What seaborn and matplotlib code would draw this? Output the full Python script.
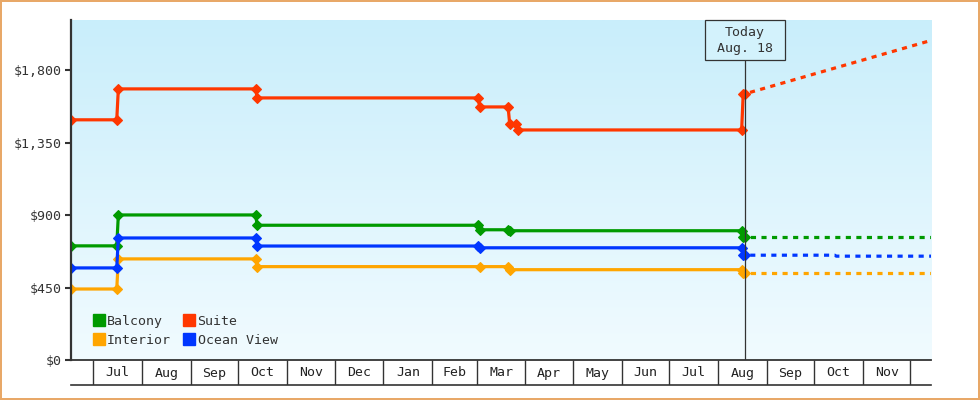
import numpy as np
import pandas as pd
import matplotlib
matplotlib.use("Agg")
import matplotlib.pyplot as plt
import matplotlib.transforms as mtransforms
from matplotlib.colors import LinearSegmentedColormap
from matplotlib.lines import Line2D
from matplotlib.patches import Rectangle
import seaborn as sns

sns.set_style("white")
plt.rcParams["font.family"] = ["DejaVu Sans Mono", "DejaVu Sans"]

# ---- data ----
cabins = ["Balcony", "Interior", "Suite", "Ocean View"]
palette = {"Balcony": "#009a00", "Interior": "#ffa500",
           "Suite": "#ff3700", "Ocean View": "#0036ff"}

balcony_dates = ["2012-06-17", "2012-07-16", "2012-07-17", "2012-10-12", "2012-10-13",
                 "2013-03-02", "2013-03-03", "2013-03-21", "2013-03-22",
                 "2013-08-16", "2013-08-17", "2013-08-18"]
balcony_prices = [709, 709, 901, 901, 837, 837, 809, 809, 803, 803, 762, 762]

interior_dates = ["2012-06-17", "2012-07-16", "2012-07-17", "2012-10-12", "2012-10-13",
                  "2013-03-03", "2013-03-21", "2013-03-22",
                  "2013-08-16", "2013-08-17", "2013-08-18"]
interior_prices = [441, 441, 628, 628, 580, 580, 580, 561, 561, 541, 541]

suite_dates = ["2012-06-17", "2012-07-16", "2012-07-17", "2012-10-12", "2012-10-13",
               "2013-03-02", "2013-03-03", "2013-03-21", "2013-03-22",
               "2013-03-26", "2013-03-27", "2013-08-16", "2013-08-17", "2013-08-18"]
suite_prices = [1492, 1492, 1684, 1684, 1628, 1628, 1572, 1572, 1467, 1467, 1429,
                1429, 1653, 1653]

ocean_dates = ["2012-06-17", "2012-07-16", "2012-07-17", "2012-10-12", "2012-10-13",
               "2013-03-02", "2013-03-03", "2013-08-16", "2013-08-17", "2013-08-18"]
ocean_prices = [572, 572, 758, 758, 708, 708, 697, 697, 651, 651]

# forecast (dotted) after today
fc_balcony_dates = ["2013-08-18", "2013-12-14"]
fc_balcony_prices = [762, 762]
fc_interior_dates = ["2013-08-18", "2013-12-14"]
fc_interior_prices = [541, 541]
fc_suite_dates = ["2013-08-18", "2013-12-14"]
fc_suite_prices = [1653, 1985]
fc_ocean_dates = ["2013-08-18", "2013-10-14", "2013-10-15", "2013-12-14"]
fc_ocean_prices = [651, 651, 645, 645]

today = pd.Timestamp("2013-08-18")
x_start, x_end = pd.Timestamp("2012-06-17"), pd.Timestamp("2013-12-14")
y_ticks = [0, 450, 900, 1350, 1800]


def long_frame(parts):
    rows = []
    for name, dates, prices in parts:
        for d, p in zip(dates, prices):
            rows.append({"cabin": name, "date": pd.Timestamp(d), "price": p})
    return pd.DataFrame(rows)


hist = long_frame([("Balcony", balcony_dates, balcony_prices),
                   ("Interior", interior_dates, interior_prices),
                   ("Suite", suite_dates, suite_prices),
                   ("Ocean View", ocean_dates, ocean_prices)])
fc = long_frame([("Balcony", fc_balcony_dates, fc_balcony_prices),
                 ("Interior", fc_interior_dates, fc_interior_prices),
                 ("Suite", fc_suite_dates, fc_suite_prices),
                 ("Ocean View", fc_ocean_dates, fc_ocean_prices)])

# ---- figure ----
fig = plt.figure(figsize=(9.8, 4.0), dpi=100)
fig.patch.set_edgecolor("#e8a868")
fig.patch.set_linewidth(1.6)

ax = fig.add_axes([71 / 980, 40 / 400, 860 / 980, 340 / 400])
strip = fig.add_axes([71 / 980, 15 / 400, 860 / 980, 25 / 400], sharex=ax)

# gradient background
bg = LinearSegmentedColormap.from_list("bg", ["#f1fbff", "#c9eefb"])
ax.imshow(np.linspace(0, 1, 256).reshape(-1, 1), cmap=bg, origin="lower",
          extent=[0, 1, 0, 1], transform=ax.transAxes, aspect="auto", zorder=0)

sns.lineplot(data=fc, x="date", y="price", hue="cabin", palette=palette,
             estimator=None, sort=False, legend=False, ax=ax,
             linewidth=2.3, linestyle=(1.6, (1.6, 1.7)), zorder=3)
sns.lineplot(data=hist, x="date", y="price", hue="cabin", palette=palette,
             estimator=None, sort=False, legend=False, ax=ax,
             linewidth=2.3, marker="D", markersize=5, markeredgewidth=0.8,
             zorder=4)
for line in ax.get_lines():
    line.set_markeredgecolor(line.get_color())

ax.set_xlim(x_start, x_end)
ax.set_ylim(0, 2112)
ax.set_yticks(y_ticks)
ax.set_yticklabels([f"${v:,}" for v in y_ticks])
ax.set_xlabel("")
ax.set_ylabel("")
ax.tick_params(axis="y", length=4.5, width=1.5, color="#333333",
               labelcolor="#333333", labelsize=9.5, pad=2, left=True)
ax.tick_params(axis="x", bottom=False, labelbottom=False)
for s in ["top", "right"]:
    ax.spines[s].set_visible(False)
ax.spines["left"].set_color("#333333")
ax.spines["left"].set_linewidth(1.6)
ax.spines["bottom"].set_color("#333333")
ax.spines["bottom"].set_linewidth(1.3)
ax.spines["left"].set_zorder(6)
ax.spines["bottom"].set_zorder(6)

# today marker and box
ax.axvline(today, color="#333333", linewidth=0.9, zorder=5)
trans = mtransforms.blended_transform_factory(ax.transData, ax.transAxes)
box = Rectangle((today - pd.Timedelta(days=25.3), 1 - 40 / 340), pd.Timedelta(days=50.6),
                40 / 340, transform=trans, facecolor="#d3f2fc", edgecolor="#333333",
                linewidth=0.9, zorder=7, clip_on=False)
ax.add_patch(box)
ax.text(today, 1 - 20.5 / 340, "Today\nAug. 18", transform=trans, ha="center",
        va="center", fontsize=9.5, color="#333333", linespacing=1.35, zorder=8)

# legend
handles = [Line2D([], [], marker="s", linestyle="", markersize=8,
                  color=palette[c]) for c in cabins]
ax.legend(handles, cabins, ncol=2, loc="lower left",
          bbox_to_anchor=(0.0145, 0.012), frameon=False, fontsize=9.5,
          handlelength=0.9, handletextpad=0.2, columnspacing=0.9,
          labelspacing=0.45, borderpad=0.2, labelcolor="#333333")

# month strip under the plot
months = pd.date_range("2012-07-01", "2013-12-01", freq="MS")
strip.set_facecolor("none")
strip.vlines(months, 0, 1, color="#333333", linewidth=1.0)
for m0, m1 in zip(months[:-1], months[1:]):
    strip.text(m0 + (m1 - m0) / 2, 0.48, m0.strftime("%b"), ha="center", va="center",
               fontsize=9.5, color="#222222",
               transform=mtransforms.blended_transform_factory(strip.transData, strip.transAxes))
strip.set_ylim(0, 1)
strip.set_xlim(x_start, x_end)
for s in ["top", "left", "right"]:
    strip.spines[s].set_visible(False)
strip.spines["bottom"].set_color("#333333")
strip.spines["bottom"].set_linewidth(1.2)
strip.set_xticks([])
strip.set_yticks([])

fig.savefig("out.png", dpi=100)
